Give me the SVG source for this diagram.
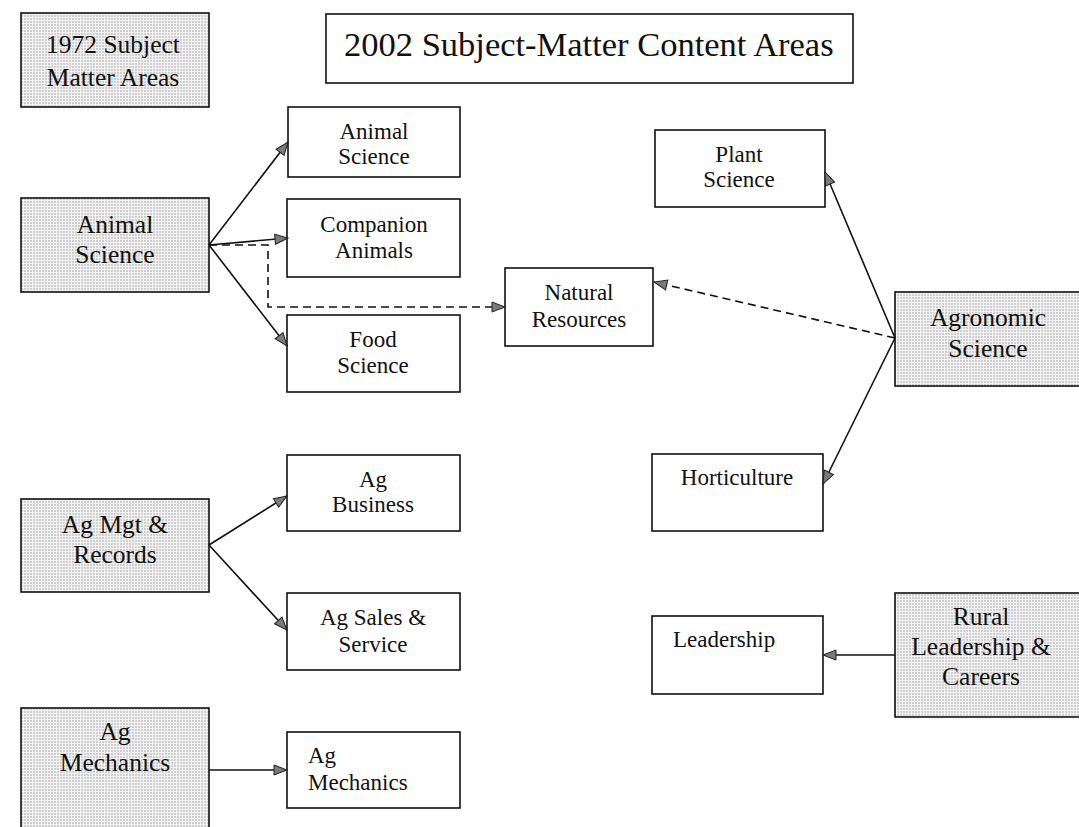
<svg xmlns="http://www.w3.org/2000/svg" width="1079" height="827" viewBox="0 0 1079 827">
<defs>
<pattern id="dots" width="3" height="3" patternUnits="userSpaceOnUse">
<rect width="3" height="3" fill="#f2f2f2"/>
<circle cx="1" cy="1" r="0.65" fill="#909090"/>
</pattern>
<marker id="arr" markerUnits="userSpaceOnUse" markerWidth="16" markerHeight="12" refX="14" refY="6" orient="auto">
<path d="M1,1 L14,6 L1,11 Z" fill="#7a7a7a" stroke="#222" stroke-width="1"/>
</marker>
</defs>
<style>
.box{fill:#fff;stroke:#111;stroke-width:1.6}
.sh{fill:url(#dots);stroke:#111;stroke-width:1.6}
.t{font-family:"Liberation Serif","Times New Roman",serif;font-size:23px;fill:#111;text-anchor:middle}
.ts{font-family:"Liberation Serif","Times New Roman",serif;font-size:25.5px;fill:#111;text-anchor:middle}
.tl{font-family:"Liberation Serif","Times New Roman",serif;font-size:23px;fill:#111}
.ttl{font-family:"Liberation Serif","Times New Roman",serif;font-size:34.5px;fill:#111}
.c{fill:none;stroke:#111;stroke-width:1.6}
.d{stroke-dasharray:8,5}
</style>
<rect width="1079" height="827" fill="#fff"/>
<g id="legend1972">
<rect class="sh" x="21" y="13" width="188" height="94"/>
<text class="ts" x="113" y="53">1972 Subject</text>
<text class="ts" x="113" y="86">Matter Areas</text>
</g>
<g id="title2002">
<rect class="box" x="326" y="14" width="527" height="69"/>
<text class="ttl" x="344" y="56">2002 Subject-Matter Content Areas</text>
</g>
<g id="animal-science-1972">
<rect class="sh" x="21" y="198" width="188" height="94"/>
<text class="ts" x="115" y="233">Animal</text>
<text class="ts" x="115" y="263">Science</text>
</g>
<g id="ag-mgt">
<rect class="sh" x="21" y="499" width="188" height="93"/>
<text class="ts" x="115" y="533">Ag Mgt &amp;</text>
<text class="ts" x="115" y="563">Records</text>
</g>
<g id="ag-mechanics-1972">
<rect class="sh" x="21" y="708" width="188" height="130"/>
<text class="ts" x="115" y="740">Ag</text>
<text class="ts" x="115" y="771">Mechanics</text>
</g>
<g id="agronomic">
<rect class="sh" x="895" y="292" width="200" height="94"/>
<text class="ts" x="988" y="326">Agronomic</text>
<text class="ts" x="988" y="357">Science</text>
</g>
<g id="rural">
<rect class="sh" x="895" y="593" width="200" height="124"/>
<text class="ts" x="981" y="625">Rural</text>
<text class="ts" x="981" y="655">Leadership &amp;</text>
<text class="ts" x="981" y="685">Careers</text>
</g>
<g id="animal-science-2002">
<rect class="box" x="288" y="107" width="172" height="70"/>
<text class="t" x="374" y="139">Animal</text>
<text class="t" x="374" y="164">Science</text>
</g>
<g id="companion">
<rect class="box" x="287" y="199" width="173" height="78"/>
<text class="t" x="374" y="232">Companion</text>
<text class="t" x="374" y="258">Animals</text>
</g>
<g id="food">
<rect class="box" x="287" y="315" width="173" height="77"/>
<text class="t" x="373" y="347">Food</text>
<text class="t" x="373" y="373">Science</text>
</g>
<g id="natural">
<rect class="box" x="505" y="268" width="148" height="78"/>
<text class="t" x="579" y="300">Natural</text>
<text class="t" x="579" y="327">Resources</text>
</g>
<g id="ag-business">
<rect class="box" x="287" y="455" width="173" height="76"/>
<text class="t" x="373" y="487">Ag</text>
<text class="t" x="373" y="512">Business</text>
</g>
<g id="ag-sales">
<rect class="box" x="287" y="593" width="173" height="77"/>
<text class="t" x="373" y="625">Ag Sales &amp;</text>
<text class="t" x="373" y="652">Service</text>
</g>
<g id="ag-mechanics-2002">
<rect class="box" x="287" y="732" width="173" height="76"/>
<text class="tl" x="308" y="763">Ag</text>
<text class="tl" x="308" y="790">Mechanics</text>
</g>
<g id="plant">
<rect class="box" x="655" y="130" width="170" height="77"/>
<text class="t" x="739" y="162">Plant</text>
<text class="t" x="739" y="187">Science</text>
</g>
<g id="horticulture">
<rect class="box" x="652" y="454" width="171" height="77"/>
<text class="t" x="737" y="485">Horticulture</text>
</g>
<g id="leadership">
<rect class="box" x="652" y="616" width="171" height="78"/>
<text class="tl" x="673" y="647">Leadership</text>
</g>
<g id="connectors">
<path class="c" d="M209,245 L288,142" marker-end="url(#arr)"/>
<path class="c" d="M209,245 L288,238" marker-end="url(#arr)"/>
<path class="c" d="M209,245 L287,346" marker-end="url(#arr)"/>
<path class="c d" d="M209,245 H268 V307 H505" marker-end="url(#arr)"/>
<path class="c d" d="M895,338 L654,282" marker-end="url(#arr)"/>
<path class="c" d="M895,338 L825,172" marker-end="url(#arr)"/>
<path class="c" d="M895,338 L823,484" marker-end="url(#arr)"/>
<path class="c" d="M209,545 L287,496" marker-end="url(#arr)"/>
<path class="c" d="M209,545 L287,630" marker-end="url(#arr)"/>
<path class="c" d="M895,655 L823,655" marker-end="url(#arr)"/>
<path class="c" d="M209,770 L287,770" marker-end="url(#arr)"/>
</g>
</svg>
